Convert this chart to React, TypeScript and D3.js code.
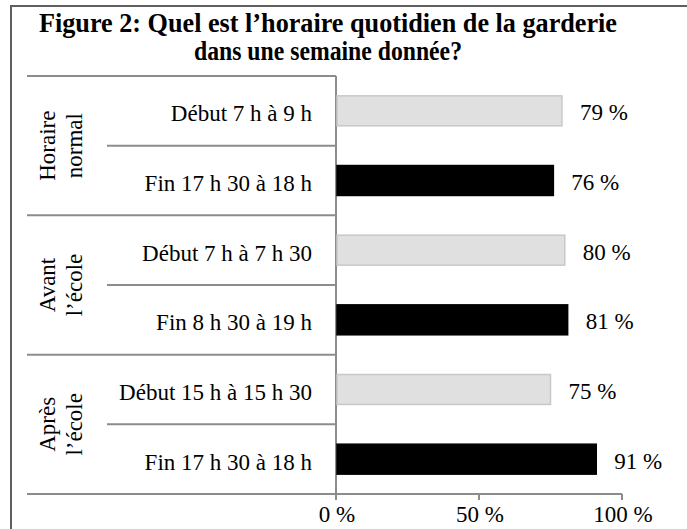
import React from "react";
import * as d3 from "d3";

// data
const groups = ["Horaire normal", "Avant l’école", "Après l’école"];
const groupLines = [["Horaire", "normal"], ["Avant", "l’école"], ["Après", "l’école"]];
const rowLabels = [
  "Début 7 h à 9 h",
  "Fin 17 h 30 à 18 h",
  "Début 7 h à 7 h 30",
  "Fin 8 h 30 à 19 h",
  "Début 15 h à 15 h 30",
  "Fin 17 h 30 à 18 h",
];
const rowGroup = [0, 0, 1, 1, 2, 2];
const rowKind = ["debut", "fin", "debut", "fin", "debut", "fin"];
const values = [79, 76, 80, 81, 75, 91];
const xTicks = [0, 50, 100];

const W = 687;
const H = 529;
const font = "'Liberation Serif', 'Times New Roman', serif";
const lineColor = "#8c8c8c";
const fs = 23;

const App = () => {
  const svgRef = React.useRef(null);

  React.useEffect(() => {
    const svg = d3.select(svgRef.current);
    svg.selectAll("*").remove();

    const x = d3.scaleLinear().domain([0, 100]).range([336, 622]);
    const y = d3
      .scaleBand()
      .domain(d3.range(rowLabels.length).map(String))
      .range([76, 494])
      .paddingInner(0.57)
      .paddingOuter(0.285);
    const step = y.step();
    const bandTop = (i) => y(String(i)) - (step - y.bandwidth()) / 2;

    // outer frame
    svg
      .append("rect")
      .attr("x", 11)
      .attr("y", 6)
      .attr("width", W)
      .attr("height", H)
      .attr("fill", "none")
      .attr("stroke", "#5f5f5f")
      .attr("stroke-width", 2);

    // title (condensed bold)
    const title = svg
      .append("text")
      .attr("text-anchor", "middle")
      .attr("font-family", font)
      .attr("font-weight", "bold")
      .attr("font-size", 28)
      .attr("fill", "#000");
    title
      .append("tspan")
      .attr("x", 328)
      .attr("y", 32)
      .attr("textLength", 578)
      .attr("lengthAdjust", "spacingAndGlyphs")
      .text("Figure 2: Quel est l’horaire quotidien de la garderie");
    title
      .append("tspan")
      .attr("x", 328)
      .attr("y", 60)
      .attr("textLength", 268)
      .attr("lengthAdjust", "spacingAndGlyphs")
      .text("dans une semaine donnée?");

    // separators
    const g = svg.append("g").attr("stroke", lineColor).attr("stroke-width", 2);
    for (let i = 0; i <= rowLabels.length; i++) {
      const yy = i < rowLabels.length ? bandTop(i) : 494;
      const isGroupEdge = i === 0 || i === rowLabels.length || rowGroup[i] !== rowGroup[i - 1];
      g.append("line")
        .attr("x1", isGroupEdge ? 27 : 107)
        .attr("x2", i === rowLabels.length ? x(100) : x(0))
        .attr("y1", yy)
        .attr("y2", yy);
    }
    g.append("line").attr("x1", x(0)).attr("x2", x(0)).attr("y1", 76).attr("y2", 500);
    xTicks.forEach((t) => {
      g.append("line").attr("x1", x(t)).attr("x2", x(t)).attr("y1", 494).attr("y2", 500);
    });

    // bars
    svg
      .append("g")
      .selectAll("rect")
      .data(values)
      .join("rect")
      .attr("x", x(0) + 1)
      .attr("y", (d, i) => y(String(i)))
      .attr("width", (d) => x(d) - x(0) - 1)
      .attr("height", y.bandwidth())
      .attr("fill", (d, i) => (rowKind[i] === "fin" ? "#000" : "#e0e0e0"))
      .attr("stroke", (d, i) => (rowKind[i] === "fin" ? "#000" : "#c8c8c8"))
      .attr("stroke-width", 1.5);

    // value labels
    svg
      .append("g")
      .selectAll("text")
      .data(values)
      .join("text")
      .attr("x", (d) => x(d) + 18)
      .attr("y", (d, i) => y(String(i)) + y.bandwidth() / 2 + 9.5)
      .attr("font-family", font)
      .attr("font-size", fs)
      .text((d) => `${d} %`);

    // row labels
    svg
      .append("g")
      .selectAll("text")
      .data(rowLabels)
      .join("text")
      .attr("x", 312)
      .attr("y", (d, i) => y(String(i)) + y.bandwidth() / 2 + 10.5)
      .attr("text-anchor", "end")
      .attr("font-family", font)
      .attr("font-size", fs)
      .text((d) => d);

    // group labels (rotated)
    groups.forEach((name, gi) => {
      const idx = rowGroup.map((r, i) => (r === gi ? i : -1)).filter((i) => i >= 0);
      const top = bandTop(idx[0]);
      const bottom = bandTop(idx[idx.length - 1]) + step;
      const cy = (top + bottom) / 2;
      const t = svg
        .append("text")
        .attr("transform", `translate(0,${cy}) rotate(-90)`)
        .attr("text-anchor", "middle")
        .attr("font-family", font)
        .attr("font-size", fs);
      groupLines[gi].forEach((ln, li) => {
        t.append("tspan").attr("x", 0).attr("y", 55 + li * 27).text(ln);
      });
    });

    // x tick labels
    svg
      .append("g")
      .selectAll("text")
      .data(xTicks)
      .join("text")
      .attr("x", (d) => x(d) + 1)
      .attr("y", 522)
      .attr("text-anchor", "middle")
      .attr("font-family", font)
      .attr("font-size", fs)
      .text((d) => `${d} %`);
  }, []);

  return (
    <svg
      ref={svgRef}
      width={W}
      height={H}
      style={{ position: "absolute", left: 0, top: 0, background: "#fff" }}
    />
  );
};

export default App;
